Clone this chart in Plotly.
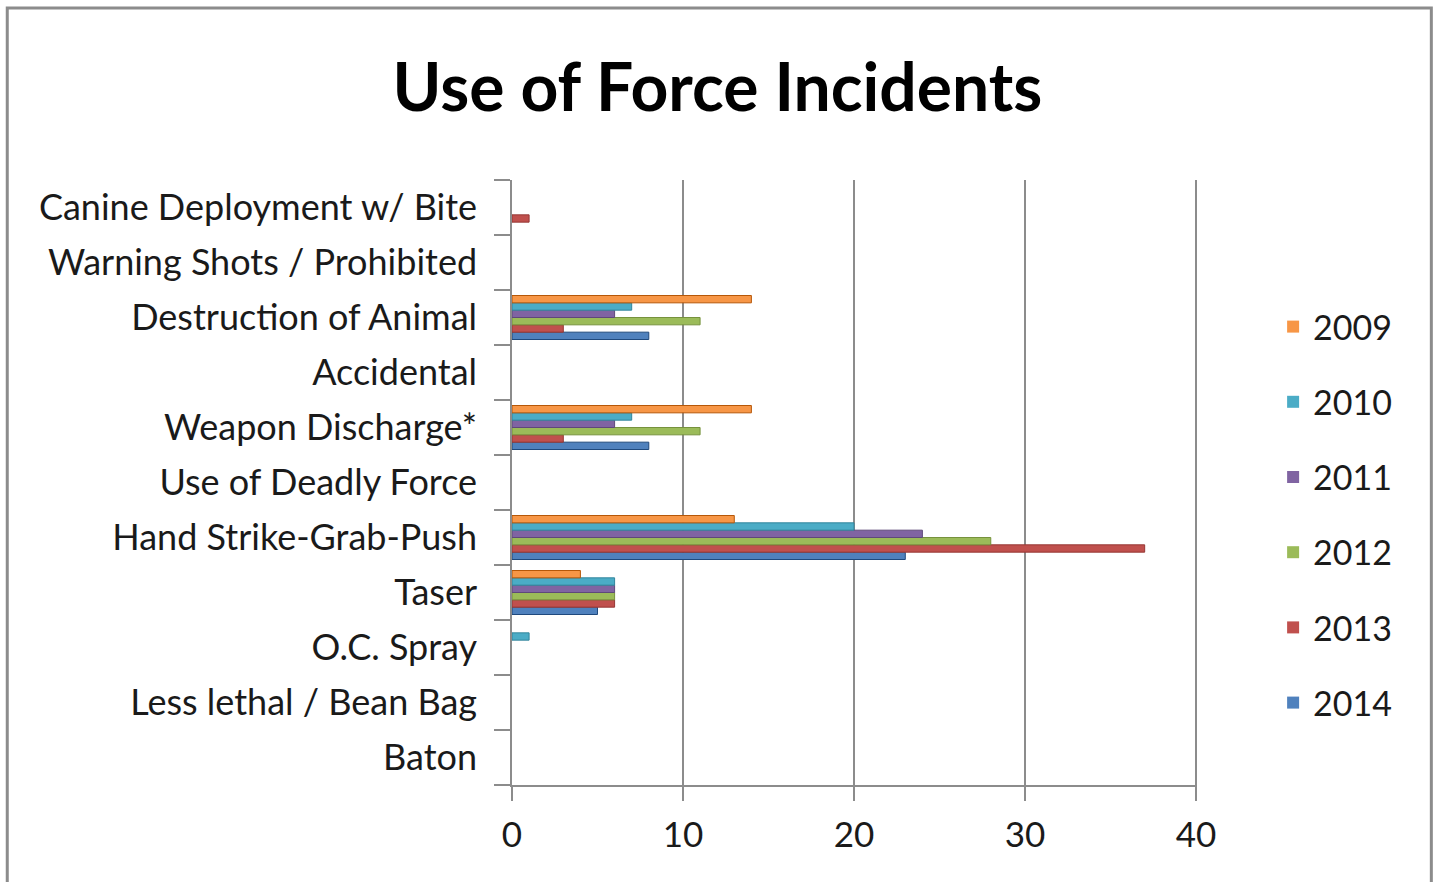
import plotly.graph_objects as go

categories = ["Baton", "Less lethal / Bean Bag", "O.C. Spray", "Taser",
              "Hand Strike-Grab-Push", "Use of Deadly Force", "Weapon Discharge*",
              "Accidental", "Destruction of Animal", "Warning Shots / Prohibited",
              "Canine Deployment w/ Bite"]

years = ["2009", "2010", "2011", "2012", "2013", "2014"]
v2009 = [0, 0, 0, 4, 13, 0, 14, 0, 14, 0, 0]
v2010 = [0, 0, 1, 6, 20, 0, 7, 0, 7, 0, 0]
v2011 = [0, 0, 0, 6, 24, 0, 6, 0, 6, 0, 0]
v2012 = [0, 0, 0, 6, 28, 0, 11, 0, 11, 0, 0]
v2013 = [0, 0, 0, 6, 37, 0, 3, 0, 3, 0, 1]
v2014 = [0, 0, 0, 5, 23, 0, 8, 0, 8, 0, 0]
x_ticks = [0, 10, 20, 30, 40]

series = {"2009": v2009, "2010": v2010, "2011": v2011,
          "2012": v2012, "2013": v2013, "2014": v2014}
colors = {"2009": "#F79646", "2010": "#4BACC6", "2011": "#8064A2",
          "2012": "#9BBB59", "2013": "#C0504D", "2014": "#4F81BD"}
edge = {"2009": "#B65708", "2010": "#31859C", "2011": "#5F497A",
        "2012": "#76923C", "2013": "#953734", "2014": "#1F497D"}

FONT = "Lato"
fig = go.Figure()
for yr in reversed(years):
    vals = series[yr]
    fig.add_trace(go.Bar(
        y=categories, x=vals, name=yr, orientation="h",
        legendgroup=yr, legendrank=years.index(yr) + 1,
        marker=dict(color=colors[yr],
                    line=dict(color=edge[yr], width=[1 if v > 0 else 0 for v in vals])),
    ))

W, H = 1435, 882
L, R, T, B = 512, 1196, 180, 785
pw, ph = R - L, B - T

def px(x):
    return (x - L) / pw

def py(y):
    return (B - y) / ph

fig.update_layout(
    width=W, height=H,
    margin=dict(l=L, r=W - R - 1, t=T, b=H - B),
    paper_bgcolor="white", plot_bgcolor="white",
    barmode="group", bargap=0.2, bargroupgap=0,
    font=dict(family=FONT, color="#1a1a1a"),
    title=dict(text="<b>Use of Force Incidents</b>", x=0.5, xref="container",
               xanchor="center", y=1 - 88 / H, yref="container", yanchor="middle",
               font=dict(family=FONT, size=66, color="black")),
    showlegend=True,
    legend=dict(x=px(1272), y=py(298), xanchor="left", yanchor="top",
                traceorder="grouped", tracegroupgap=28,
                font=dict(family=FONT, size=34, color="#1a1a1a"),
                bgcolor="rgba(0,0,0,0)", itemwidth=30),
    xaxis=dict(range=[0, 40.06], tickvals=x_ticks, showgrid=True,
               gridcolor="#8c8c8c", gridwidth=1.5, zeroline=False,
               showline=True, linecolor="#8c8c8c", linewidth=1.5,
               ticks="outside", ticklen=14, tickcolor="#8c8c8c", tickwidth=1.5,
               tickfont=dict(family=FONT, size=35, color="#1a1a1a"),
               ticklabelstandoff=4),
    yaxis=dict(showgrid=False, zeroline=False, showline=True,
               linecolor="#8c8c8c", linewidth=1.5,
               ticks="outside", ticklen=16, tickcolor="#8c8c8c", tickwidth=1.5,
               tickson="boundaries",
               tickfont=dict(family=FONT, size=36, color="#1a1a1a"),
               ticklabelstandoff=26),
    shapes=[dict(type="rect", xref="paper", yref="paper",
                 x0=px(8), x1=px(1430), y0=py(895), y1=py(8),
                 line=dict(color="#8c8c8c", width=3), layer="below")],
)

fig.write_html("out.html", config={"displayModeBar": False},
               post_script="document.body.style.margin='0';")
